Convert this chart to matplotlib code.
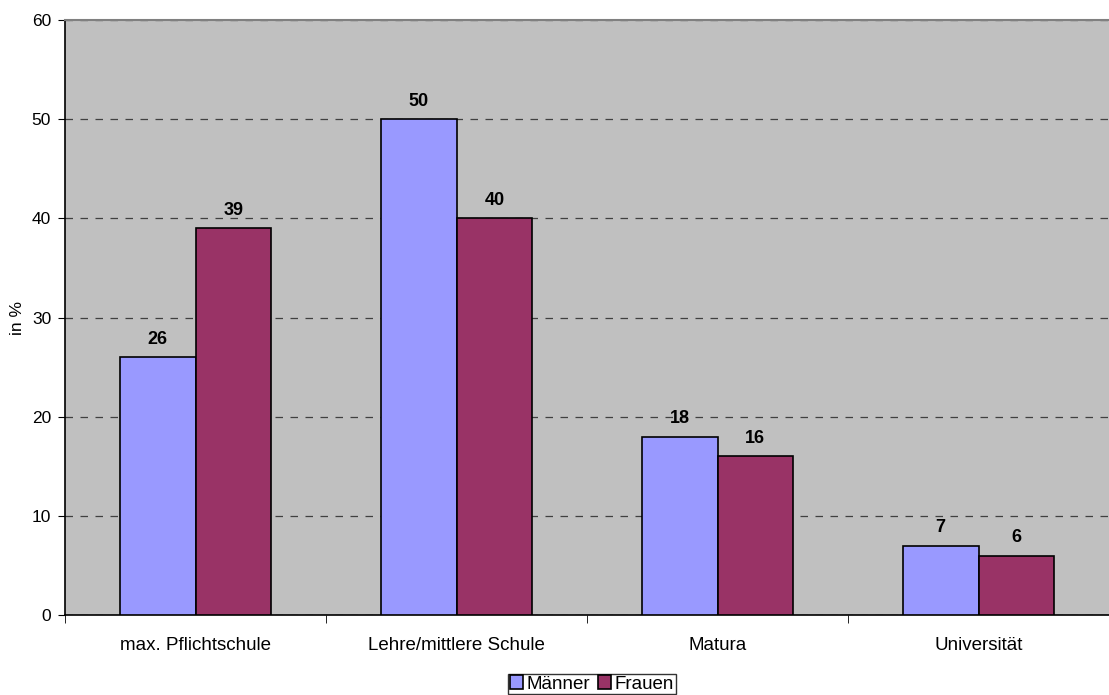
import numpy as np
import matplotlib.pyplot as plt

categories = ["max. Pflichtschule", "Lehre/mittlere Schule", "Matura", "Universität"]
maenner = [26, 50, 18, 7]
frauen = [39, 40, 16, 6]

plt.rcParams['font.family'] = ['Liberation Sans', 'DejaVu Sans']

fig = plt.figure(figsize=(11.09, 6.95), dpi=100)
ax = fig.add_axes([65 / 1109, 1 - 615 / 695, (1109 - 65) / 1109, (615 - 20) / 695])
ax.set_facecolor("#C0C0C0")

x = np.arange(len(categories))
w = 0.29
b1 = ax.bar(x - w / 2, maenner, w, color="#9999FF", edgecolor="black", linewidth=1.2, label="Männer", zorder=3)
b2 = ax.bar(x + w / 2, frauen, w, color="#993366", edgecolor="black", linewidth=1.2, label="Frauen", zorder=3)

for bars, vals in [(b1, maenner), (b2, frauen)]:
    for bar, v in zip(bars, vals):
        ax.text(bar.get_x() + bar.get_width() / 2, v + 1.8, str(v), ha="center", va="center",
                fontsize=13, fontweight="bold", zorder=4)

ax.set_xlim(-0.5, len(categories) - 0.5)
ax.set_ylim(0, 60)
ax.set_yticks(range(0, 61, 10))
ax.yaxis.grid(True, linestyle=(0, (6, 6)), color="#404040", linewidth=0.9, zorder=0)
ax.set_axisbelow(True)

ax.set_xticks(x)
ax.set_xticklabels(categories, fontsize=13.5)
ax.tick_params(axis="x", length=0, pad=16)
ax.set_xticks(np.arange(-0.5, len(categories), 1), minor=True)
ax.tick_params(axis="x", which="minor", length=6, direction="out", color="black")
ax.tick_params(axis="y", length=5, direction="out", labelsize=12.5, pad=5)

ax.spines["right"].set_visible(False)
ax.spines["top"].set_color("#808080")
ax.spines["top"].set_linewidth(1.5)
ax.spines["left"].set_linewidth(1.2)
ax.spines["bottom"].set_linewidth(1.2)

fig.text(18 / 1109, 1 - 318 / 695, "in %", rotation=90, ha="center", va="center", fontsize=12.5)

fig.legend(handles=[b1, b2], loc="center", bbox_to_anchor=(592 / 1109, 1 - 684 / 695), ncol=2,
           frameon=True, fancybox=False, edgecolor="black", fontsize=13.5,
           handlelength=0.7, handleheight=0.7, handletextpad=0.2, columnspacing=0.4,
           borderpad=0.1, borderaxespad=0)

fig.savefig("out.png", dpi=100)
